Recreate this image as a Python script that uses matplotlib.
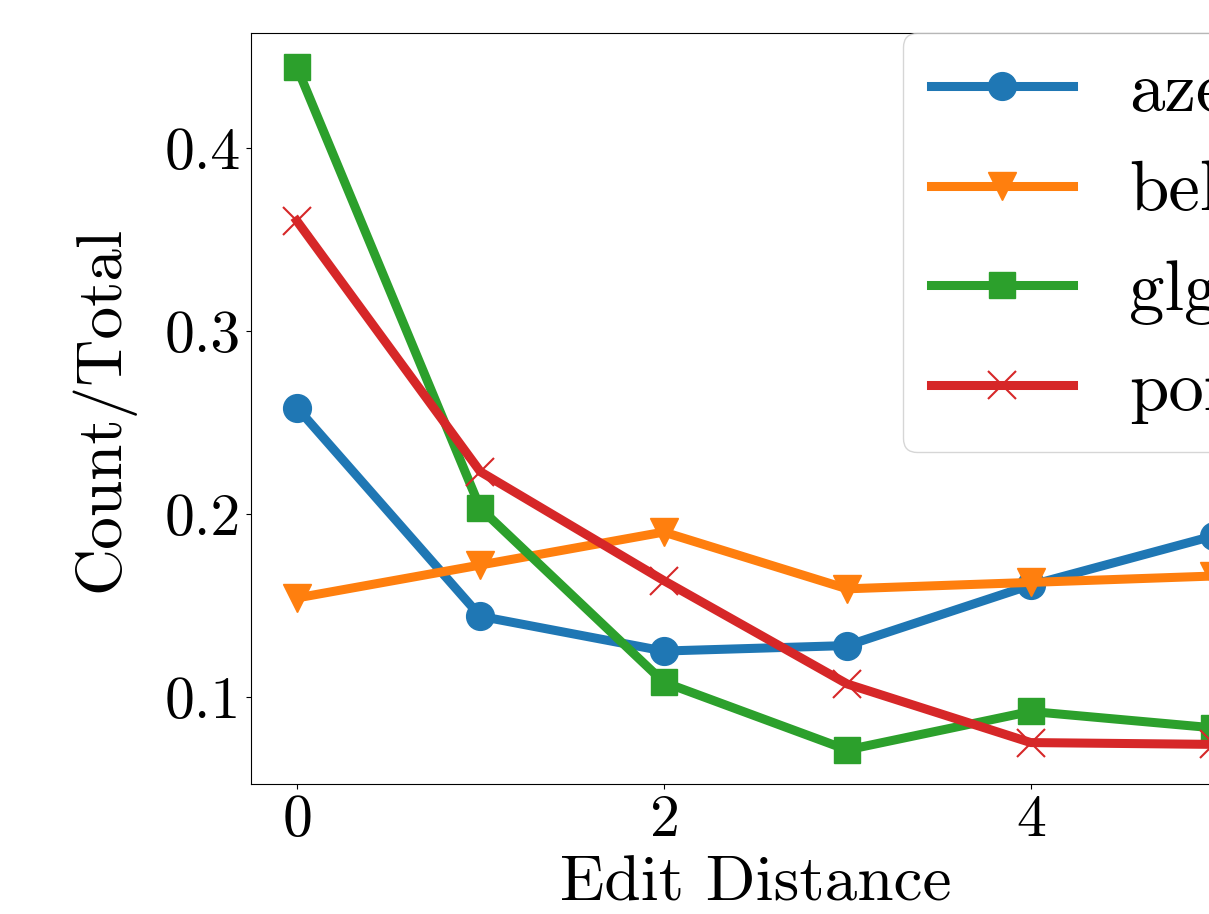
import matplotlib
matplotlib.use("Agg")
import matplotlib.pyplot as plt

plt.rcParams['font.family'] = ['cmr10', 'DejaVu Serif']
plt.rcParams['axes.formatter.use_mathtext'] = True
plt.rcParams['mathtext.fontset'] = 'cm'

x = [0, 1, 2, 3, 4, 5]
aze = [0.258, 0.144, 0.125, 0.128, 0.161, 0.188]
bel = [0.154, 0.172, 0.190, 0.159, 0.1625, 0.166]
glg = [0.444, 0.203, 0.108, 0.071, 0.092, 0.083]
por = [0.360, 0.223, 0.1635, 0.107, 0.075, 0.074]
labels = ["aze", "bel", "glg", "por"]

fig = plt.figure(figsize=(12.09, 9.14), dpi=100)
ax = fig.add_axes([0.2076, 0.1422, 0.8346, 0.8217])

lw = 6.5
ax.plot(x, aze, color='#1f77b4', marker='o', markersize=20, linewidth=lw, label=labels[0])
ax.plot(x, bel, color='#ff7f0e', marker='v', markersize=20, linewidth=lw, label=labels[1])
ax.plot(x, glg, color='#2ca02c', marker='s', markersize=19, linewidth=lw, label=labels[2])
ax.plot(x, por, color='#d62728', marker='x', markersize=20, markeredgewidth=1.5, linewidth=lw, label=labels[3])

ax.set_xticks([0, 2, 4])
ax.set_yticks([0.1, 0.2, 0.3, 0.4])
ax.set_yticklabels(["0.1", "0.2", "0.3", "0.4"])
ax.tick_params(labelsize=43)
ax.set_xlabel("Edit Distance", fontsize=47, labelpad=6)
ax.set_ylabel("Count/Total", fontsize=47, labelpad=22)
ax.legend(loc='upper right', fontsize=51, borderaxespad=0, labelspacing=0.5)

fig.savefig("out.png", dpi=100)
